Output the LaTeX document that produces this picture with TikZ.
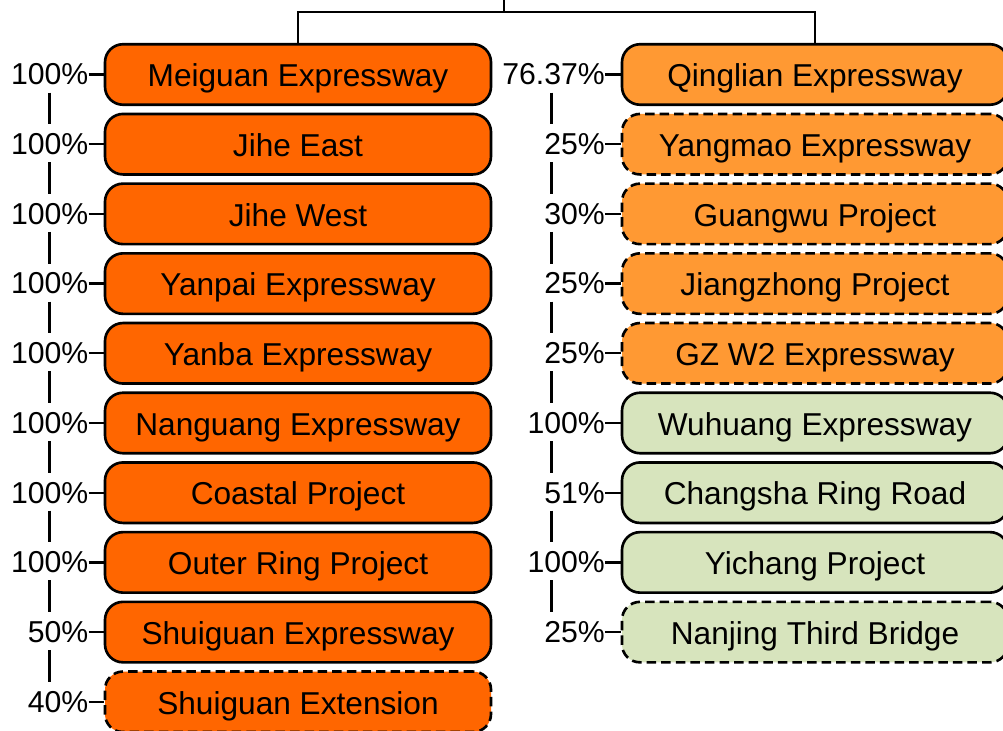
\documentclass[tikz,border=0pt]{standalone}
\usepackage{fontspec}
\setmainfont{Liberation Sans}
\usetikzlibrary{positioning}
\definecolor{deeporange}{HTML}{FF6600}
\definecolor{lightorange}{HTML}{FF9933}
\definecolor{palegreen}{HTML}{D7E4BD}
\begin{document}
\begin{tikzpicture}[
    road/.style={rectangle, draw, line width=1.5pt, rounded corners=0.36cm, minimum width=7.72cm, minimum height=1.21cm, align=center, text height=14pt, text depth=0pt, font=\fontsize{18}{20}\selectfont},
    planned/.style={dash pattern=on 5.4pt off 2.9pt},
    pct/.style={inner xsep=0pt, inner ysep=0pt, font=\fontsize{17.2}{20}\selectfont},
    branch/.style={line width=1.3pt},
    spine/.style={line width=1.3pt, shorten <=0.14cm, shorten >=0.18cm}
]
\useasboundingbox (0,0) rectangle (20.06,-14.62);

% Left column: 100% owned roads
\node[road, fill=deeporange] (m1) at (5.96,-1.49) {Meiguan Expressway};
\node[road, fill=deeporange] (m2) at (5.96,-2.884) {Jihe East};
\node[road, fill=deeporange] (m3) at (5.96,-4.278) {Jihe West};
\node[road, fill=deeporange] (m4) at (5.96,-5.672) {Yanpai Expressway};
\node[road, fill=deeporange] (m5) at (5.96,-7.066) {Yanba Expressway};
\node[road, fill=deeporange] (m6) at (5.96,-8.46) {Nanguang Expressway};
\node[road, fill=deeporange] (m7) at (5.96,-9.854) {Coastal Project};
\node[road, fill=deeporange] (m8) at (5.96,-11.248) {Outer Ring Project};
\node[road, fill=deeporange] (m9) at (5.96,-12.642) {Shuiguan Expressway};
\node[road, planned, fill=deeporange] (m10) at (5.96,-14.036) {Shuiguan Extension};

% Right column: other holdings
\node[road, fill=lightorange] (q1) at (16.3,-1.49) {Qinglian Expressway};
\node[road, planned, fill=lightorange] (q2) at (16.3,-2.884) {Yangmao Expressway};
\node[road, planned, fill=lightorange] (q3) at (16.3,-4.278) {Guangwu Project};
\node[road, planned, fill=lightorange] (q4) at (16.3,-5.672) {Jiangzhong Project};
\node[road, planned, fill=lightorange] (q5) at (16.3,-7.066) {GZ W2 Expressway};
\node[road, fill=palegreen] (q6) at (16.3,-8.46) {Wuhuang Expressway};
\node[road, fill=palegreen] (q7) at (16.3,-9.854) {Changsha Ring Road};
\node[road, fill=palegreen] (q8) at (16.3,-11.248) {Yichang Project};
\node[road, planned, fill=palegreen] (q9) at (16.3,-12.642) {Nanjing Third Bridge};

% Shares, left
\node[pct, left=0.3cm of m1] (pm1) {100\%};
\node[pct, left=0.3cm of m2] (pm2) {100\%};
\node[pct, left=0.3cm of m3] (pm3) {100\%};
\node[pct, left=0.3cm of m4] (pm4) {100\%};
\node[pct, left=0.3cm of m5] (pm5) {100\%};
\node[pct, left=0.3cm of m6] (pm6) {100\%};
\node[pct, left=0.3cm of m7] (pm7) {100\%};
\node[pct, left=0.3cm of m8] (pm8) {100\%};
\node[pct, left=0.3cm of m9] (pm9) {50\%};
\node[pct, left=0.3cm of m10] (pm10) {40\%};

% Shares, right
\node[pct, left=0.31cm of q1] (pq1) {76.37\%};
\node[pct, left=0.31cm of q2] (pq2) {25\%};
\node[pct, left=0.31cm of q3] (pq3) {30\%};
\node[pct, left=0.31cm of q4] (pq4) {25\%};
\node[pct, left=0.31cm of q5] (pq5) {25\%};
\node[pct, left=0.31cm of q6] (pq6) {100\%};
\node[pct, left=0.31cm of q7] (pq7) {51\%};
\node[pct, left=0.31cm of q8] (pq8) {100\%};
\node[pct, left=0.31cm of q9] (pq9) {25\%};

% Top
\coordinate (top) at (10.08,0);
\coordinate (root) at (10.08,-0.24);
\coordinate (spL) at (0.99,0);
\coordinate (spR) at (11.03,0);
\draw[branch] (top) -- (root);
\draw[branch] (m1.north) |- (root) -| (q1.north);

% Ticks
\draw[branch] (pm1) -- (m1);
\draw[branch] (pm2) -- (m2);
\draw[branch] (pm3) -- (m3);
\draw[branch] (pm4) -- (m4);
\draw[branch] (pm5) -- (m5);
\draw[branch] (pm6) -- (m6);
\draw[branch] (pm7) -- (m7);
\draw[branch] (pm8) -- (m8);
\draw[branch] (pm9) -- (m9);
\draw[branch] (pm10) -- (m10);
\draw[branch] (pq1) -- (q1);
\draw[branch] (pq2) -- (q2);
\draw[branch] (pq3) -- (q3);
\draw[branch] (pq4) -- (q4);
\draw[branch] (pq5) -- (q5);
\draw[branch] (pq6) -- (q6);
\draw[branch] (pq7) -- (q7);
\draw[branch] (pq8) -- (q8);
\draw[branch] (pq9) -- (q9);

% Spines
\draw[spine] (pm1.south -| spL) -- (pm2.north -| spL);
\draw[spine] (pm2.south -| spL) -- (pm3.north -| spL);
\draw[spine] (pm3.south -| spL) -- (pm4.north -| spL);
\draw[spine] (pm4.south -| spL) -- (pm5.north -| spL);
\draw[spine] (pm5.south -| spL) -- (pm6.north -| spL);
\draw[spine] (pm6.south -| spL) -- (pm7.north -| spL);
\draw[spine] (pm7.south -| spL) -- (pm8.north -| spL);
\draw[spine] (pm8.south -| spL) -- (pm9.north -| spL);
\draw[spine] (pm9.south -| spL) -- (pm10.north -| spL);
\draw[spine] (pq1.south -| spR) -- (pq2.north -| spR);
\draw[spine] (pq2.south -| spR) -- (pq3.north -| spR);
\draw[spine] (pq3.south -| spR) -- (pq4.north -| spR);
\draw[spine] (pq4.south -| spR) -- (pq5.north -| spR);
\draw[spine] (pq5.south -| spR) -- (pq6.north -| spR);
\draw[spine] (pq6.south -| spR) -- (pq7.north -| spR);
\draw[spine] (pq7.south -| spR) -- (pq8.north -| spR);
\draw[spine] (pq8.south -| spR) -- (pq9.north -| spR);

\end{tikzpicture}
\end{document}
